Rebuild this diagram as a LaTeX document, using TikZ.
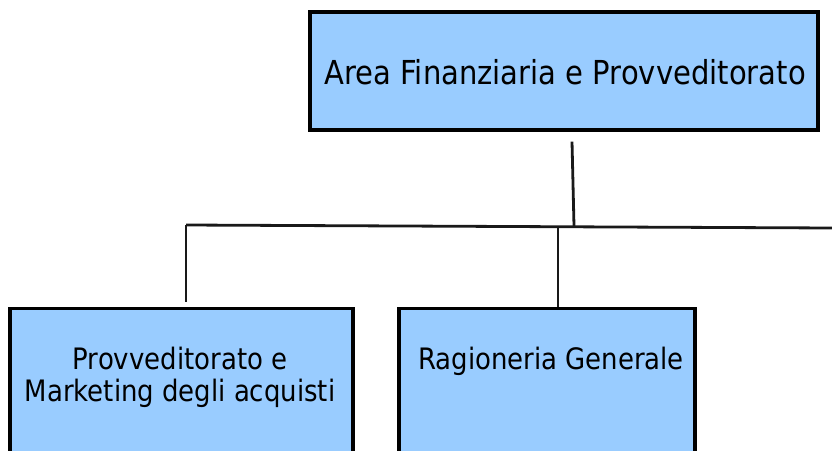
\documentclass[tikz,border=0pt]{standalone}
\usepackage{fontspec}
\setmainfont{DejaVu Sans}[FakeStretch=0.88]
\definecolor{boxblue}{RGB}{153,204,255}
\begin{document}
\begin{tikzpicture}[x=1pt,y=-1pt,
  box/.style={draw=black, line width=3.2pt, fill=boxblue, inner sep=0pt},
  conn/.style={line width=2.8pt, draw=black!90},
  lbl/.style={font=\fontsize{29.5}{32}\selectfont, align=center, inner sep=0pt}]
\useasboundingbox (0,0) rectangle (832,450);
% boxes
\node[box, minimum width=508pt, minimum height=118pt] (top) at (564,71) {};
\node[lbl, font=\fontsize{33}{36}\selectfont] (toptext) at (565,72) {Area Finanziaria e Provveditorato};
\node[box, anchor=north, minimum width=343pt, minimum height=170pt] (left) at (181.5,307) {};
\node[lbl] (lefttext) at (180,377) {Provveditorato e\\Marketing degli acquisti};
\node[box, anchor=north, minimum width=296pt, minimum height=170pt] (mid) at (547,307) {};
\node[lbl] (midtext) at (551,361) {Ragioneria Generale};
% connectors
\coordinate (j) at (574,226);
\coordinate (hl) at (186,225);
\coordinate (hr) at (832,228);
\coordinate (jm) at (558,227.5);
\draw[conn] ([xshift=8pt,yshift=-10pt]top.south) -- (j);
\draw[conn] (hl) -- (hr);
\draw[conn] (hl) -- ([yshift=5pt]left.north -| hl);
\draw[conn] (jm) -- (mid.north -| jm);
\end{tikzpicture}
\end{document}
